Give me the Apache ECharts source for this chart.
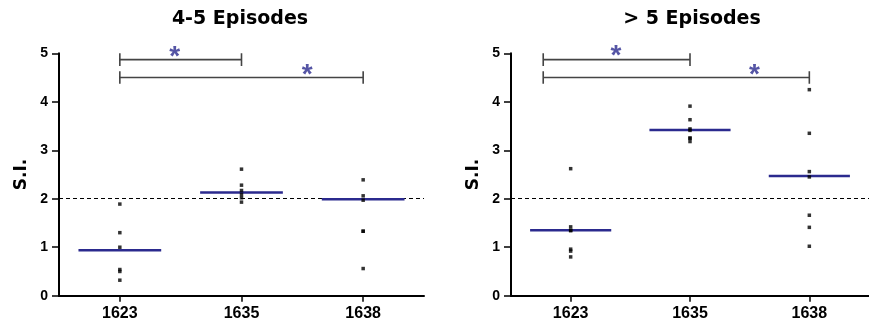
<!DOCTYPE html>
<html>
<head>
<meta charset="utf-8">
<script src="https://cdn.jsdelivr.net/npm/echarts@6/dist/echarts.min.js"></script>
<style>
html,body{margin:0;padding:0;background:#fff;}
#chart{width:869px;height:325px;}
</style>
</head>
<body>
<div id="chart"></div>
<script>
// ---- data ----
const categories = ['1623', '1635', '1638'];
const panelTitles = ['4-5 Episodes', '> 5 Episodes'];
const yTicks = [0, 1, 2, 3, 4, 5];
const threshold = 2;

const left1623 = [1.89, 1.30, 1.00, 0.54, 0.50, 0.32];
const left1635 = [2.61, 2.28, 2.17, 2.09, 2.02, 1.93];
const left1638 = [2.39, 2.06, 1.97, 1.33, 1.33, 0.56];
const leftMeans = [0.94, 2.13, 1.99];

const right1623 = [2.62, 1.42, 1.35, 1.34, 0.96, 0.92, 0.80];
const right1635 = [3.91, 3.63, 3.44, 3.41, 3.25, 3.25, 3.18];
const right1638 = [4.25, 3.35, 2.56, 2.45, 1.66, 1.41, 1.02];
const rightMeans = [1.35, 3.42, 2.47];

// significance brackets: [from category index, to category index, level]
const leftBrackets = [[0, 1, 4.87], [0, 2, 4.50]];
const rightBrackets = [[-0.23, 1, 4.87], [-0.23, 2, 4.50]];
// star annotations: [category-index position, level]
const leftStars = [[0.45, 5.05], [1.54, 4.67]];
const rightStars = [[0.38, 5.06], [1.54, 4.67]];

// ---- build ----
const chart = echarts.init(document.getElementById('chart'), null, {renderer: 'canvas'});
const FONT = 'Liberation Sans, Arial, sans-serif';
const BLUE = '#2b2a8e';

const grids = [
  {left: 59, right: 445, top: 53.3, bottom: 29.3},
  {left: 511, right: -8, top: 53.3, bottom: 29.3}
];

function catAxis(g) {
  return {
    type: 'category', gridIndex: g, data: categories, boundaryGap: true,
    axisLine: {show: true, onZero: false, lineStyle: {color: '#000', width: 2}},
    axisTick: {show: true, alignWithLabel: true, length: 6, lineStyle: {color: '#000', width: 1.5}},
    axisLabel: {color: '#000', fontFamily: FONT, fontWeight: 'bold', fontSize: 16, margin: 10},
    splitLine: {show: false}
  };
}
function annAxis(g) {
  return {type: 'value', gridIndex: g, min: -0.5, max: 2.5, show: false, splitLine: {show: false}};
}
function yAxis(g) {
  return {
    type: 'value', gridIndex: g, min: yTicks[0], max: yTicks[yTicks.length - 1], interval: 1,
    name: 'S.I.', nameLocation: 'middle', nameGap: 29, nameRotate: 90,
    nameTextStyle: {color: '#000', fontFamily: 'DejaVu Sans', fontWeight: 'bold', fontSize: 17},
    axisLine: {show: true, onZero: false, lineStyle: {color: '#000', width: 2}},
    axisTick: {show: true, length: 7, lineStyle: {color: '#000', width: 1.5}},
    axisLabel: {color: '#000', fontFamily: FONT, fontWeight: 'bold', fontSize: 14, margin: 11},
    splitLine: {show: false}
  };
}

function pointsSeries(g, groups) {
  const data = [];
  groups.forEach((arr, i) => arr.forEach(v => data.push([categories[i], v])));
  return {
    type: 'scatter', xAxisIndex: g * 2, yAxisIndex: g, data: data,
    symbol: 'rect', symbolSize: 3.5, itemStyle: {color: '#000'}, z: 4,
    markLine: {
      silent: true, symbol: 'none', z: 1,
      label: {show: false},
      lineStyle: {color: '#000', width: 1, type: [4, 3]},
      data: [{yAxis: threshold}]
    }
  };
}
function meanSeries(g, means) {
  return {
    type: 'custom', xAxisIndex: g * 2, yAxisIndex: g, z: 3,
    data: means.map((m, i) => [i, m]),
    encode: {x: 0, y: 1},
    renderItem: function (params, api) {
      const c = api.coord([api.value(0), api.value(1)]);
      const w = api.size([1, 0])[0] * 0.68;
      return {
        type: 'line',
        shape: {x1: c[0] - w / 2, y1: c[1], x2: c[0] + w / 2, y2: c[1]},
        style: {stroke: BLUE, lineWidth: 2.5}
      };
    }
  };
}
function bracketSeries(g, brackets) {
  const d = 0.13;
  return brackets.map(b => ({
    type: 'line', xAxisIndex: g * 2 + 1, yAxisIndex: g, z: 2,
    symbol: 'none', silent: true, clip: false,
    lineStyle: {color: '#444', width: 1.6},
    data: [[b[0], b[2] - d], [b[0], b[2] + d], [b[0], b[2]], [b[1], b[2]], [b[1], b[2] + d], [b[1], b[2] - d]]
  }));
}
function starSeries(g, stars) {
  return {
    type: 'scatter', xAxisIndex: g * 2 + 1, yAxisIndex: g, z: 5, clip: false,
    data: stars, symbolSize: 1, itemStyle: {color: 'rgba(0,0,0,0)'},
    label: {
      show: true, position: 'inside', formatter: '*', offset: [0, 6],
      color: BLUE, fontFamily: FONT, fontWeight: 'bold', fontSize: 28
    }
  };
}

const option = {
  backgroundColor: '#fff',
  animation: false,
  grid: grids,
  xAxis: [catAxis(0), annAxis(0), catAxis(1), annAxis(1)],
  yAxis: [yAxis(0), yAxis(1)],
  graphic: [
    {type: 'text', x: 240, y: 19, style: {text: panelTitles[0], fill: '#000', font: 'bold 19px "DejaVu Sans"', textAlign: 'center', textVerticalAlign: 'middle'}},
    {type: 'text', x: 692, y: 19, style: {text: panelTitles[1], fill: '#000', font: 'bold 19px "DejaVu Sans"', textAlign: 'center', textVerticalAlign: 'middle'}}
  ],
  series: [
    pointsSeries(0, [left1623, left1635, left1638]),
    meanSeries(0, leftMeans),
    ...bracketSeries(0, leftBrackets),
    starSeries(0, leftStars),
    pointsSeries(1, [right1623, right1635, right1638]),
    meanSeries(1, rightMeans),
    ...bracketSeries(1, rightBrackets),
    starSeries(1, rightStars)
  ]
};
chart.setOption(option);
</script>
</body>
</html>
